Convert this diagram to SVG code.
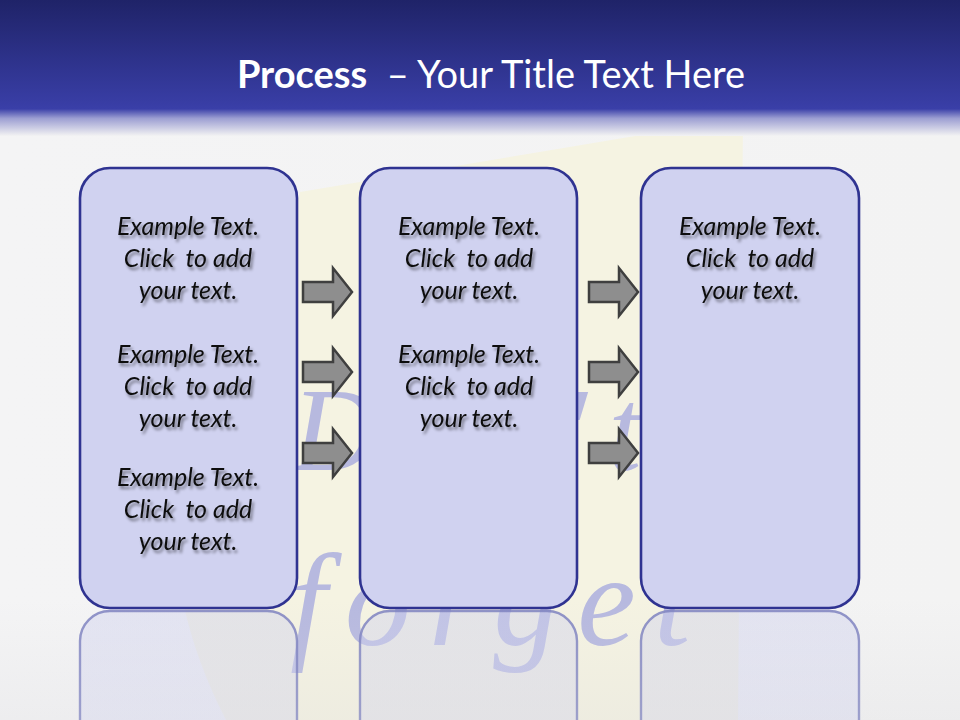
<svg xmlns="http://www.w3.org/2000/svg" width="960" height="720" viewBox="0 0 960 720">
  <defs>
    <linearGradient id="hdr" x1="0" y1="0" x2="0" y2="1">
      <stop offset="0" stop-color="#1f2368"/>
      <stop offset="0.78" stop-color="#393ea6"/>
      <stop offset="0.8" stop-color="#3a3fa8"/>
      <stop offset="0.87" stop-color="#9c9ed2"/>
      <stop offset="1" stop-color="#f3f3f3"/>
    </linearGradient>
    <linearGradient id="bg" x1="0" y1="0" x2="1" y2="0">
      <stop offset="0" stop-color="#f4f4f5"/>
      <stop offset="1" stop-color="#f3f3f3"/>
    </linearGradient>
    <linearGradient id="refl" x1="0" y1="0" x2="0" y2="1">
      <stop offset="0" stop-color="#cfd1ee" stop-opacity="0.45"/>
      <stop offset="1" stop-color="#d6d7ee" stop-opacity="0.15"/>
    </linearGradient>
    <linearGradient id="reflStroke" x1="0" y1="0" x2="0" y2="1">
      <stop offset="0" stop-color="#7f83c0" stop-opacity="0.85"/>
      <stop offset="1" stop-color="#9a9dc8" stop-opacity="0.5"/>
    </linearGradient>
    <linearGradient id="floor" x1="0" y1="0" x2="0" y2="1">
      <stop offset="0" stop-color="#d8d8dc" stop-opacity="0"/>
      <stop offset="1" stop-color="#d8d8dc" stop-opacity="0.25"/>
    </linearGradient>
    <filter id="sh" x="-10%" y="-30%" width="130%" height="170%">
      <feDropShadow dx="2" dy="3" stdDeviation="1.8" flood-color="#000" flood-opacity="0.45"/>
    </filter>
    <path id="arrow" d="M0,-10 H30 V-24 L49,0 L30,24 V10 H0 Z"/>
  </defs>
  <style>
    .box { fill: #d0d2f0; stroke: #2f3391; stroke-width: 2.6; }
    .rbox { fill: url(#refl); stroke: url(#reflStroke); stroke-width: 2.4; }
    .txt { font-family: Lato, "Open Sans", "Liberation Sans", sans-serif; font-style: italic; font-size: 25px; fill: #111111; text-anchor: middle; }
    .arr { fill: #8e8e8e; stroke: #3f3f3f; stroke-width: 2.5; stroke-linejoin: miter; }
    .hand { font-family: "Liberation Serif", serif; font-style: italic; fill: #b7b9df; }
  </style>

  <!-- background -->
  <rect width="960" height="720" fill="url(#bg)"/>
  <!-- sticky note -->
  <path d="M300,192 L743,118 L738,720 L226,720 Q196,662 183,602 Z" fill="#f5f3e2"/>
  <!-- handwriting watermark -->
  <text class="hand" x="292" y="470" font-size="118" letter-spacing="22">Don't</text>
  <text class="hand" x="290" y="645" font-size="132" letter-spacing="18">forget</text>
  <rect y="600" width="960" height="120" fill="url(#floor)"/>

  <!-- header -->
  <rect width="960" height="136" fill="url(#hdr)"/>
  <text x="491" y="88" text-anchor="middle" font-family="Lato, 'Open Sans', 'Liberation Sans', sans-serif" font-size="38" fill="#ffffff" xml:space="preserve"><tspan font-weight="bold">Process</tspan><tspan>  – Your Title Text Here</tspan></text>

  <!-- reflections -->
  <g id="reflections">
    <rect class="rbox" x="80" y="611" width="217" height="440" rx="30"/>
    <rect class="rbox" x="360" y="611" width="217" height="440" rx="30"/>
    <rect class="rbox" x="641" y="611" width="218" height="440" rx="30"/>
  </g>

  <g id="step1">
    <rect class="box" x="80" y="168" width="217" height="440" rx="30"/>
    <g filter="url(#sh)">
      <text class="txt" x="188" y="235">Example Text.</text>
      <text class="txt" x="188" y="267" xml:space="preserve">Click  to add</text>
      <text class="txt" x="188" y="299">your text.</text>
      <text class="txt" x="188" y="363">Example Text.</text>
      <text class="txt" x="188" y="395" xml:space="preserve">Click  to add</text>
      <text class="txt" x="188" y="427">your text.</text>
      <text class="txt" x="188" y="486">Example Text.</text>
      <text class="txt" x="188" y="518" xml:space="preserve">Click  to add</text>
      <text class="txt" x="188" y="550">your text.</text>
    </g>
  </g>

  <g id="step2">
    <rect class="box" x="360" y="168" width="217" height="440" rx="30"/>
    <g filter="url(#sh)">
      <text class="txt" x="469" y="235">Example Text.</text>
      <text class="txt" x="469" y="267" xml:space="preserve">Click  to add</text>
      <text class="txt" x="469" y="299">your text.</text>
      <text class="txt" x="469" y="363">Example Text.</text>
      <text class="txt" x="469" y="395" xml:space="preserve">Click  to add</text>
      <text class="txt" x="469" y="427">your text.</text>
    </g>
  </g>

  <g id="step3">
    <rect class="box" x="641" y="168" width="218" height="440" rx="30"/>
    <g filter="url(#sh)">
      <text class="txt" x="750" y="235">Example Text.</text>
      <text class="txt" x="750" y="267" xml:space="preserve">Click  to add</text>
      <text class="txt" x="750" y="299">your text.</text>
    </g>
  </g>

  <g id="connectors">
    <use href="#arrow" class="arr" x="303" y="292"/>
    <use href="#arrow" class="arr" x="303" y="372"/>
    <use href="#arrow" class="arr" x="303" y="453"/>
    <use href="#arrow" class="arr" x="589" y="292"/>
    <use href="#arrow" class="arr" x="589" y="372"/>
    <use href="#arrow" class="arr" x="589" y="453"/>
  </g>
</svg>
